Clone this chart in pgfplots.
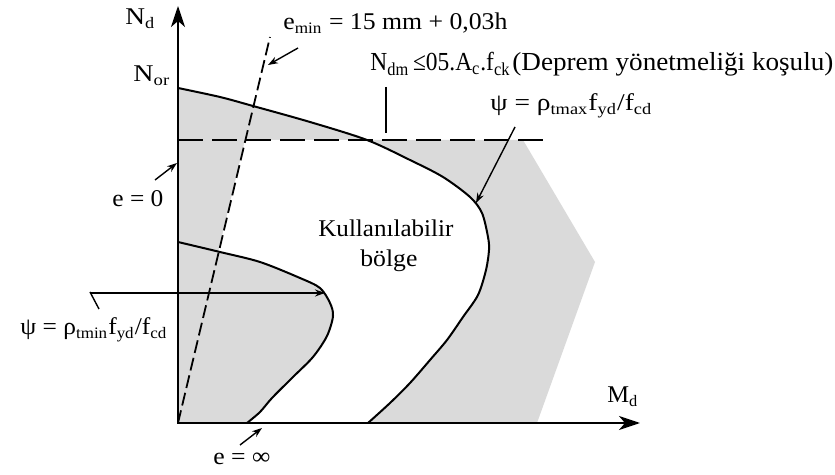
\documentclass[border=0pt]{standalone}
\usepackage{fontspec}
\setmainfont{Liberation Serif}
\usepackage{graphicx}
\usepackage{pgfplots}
\pgfplotsset{compat=1.18}
\usetikzlibrary{arrows.meta}

\definecolor{zone}{RGB}{218,218,218}
% set a label to a given width, keeping its height
\newcommand{\wlabel}[2]{\resizebox{#1}{\height}{#2}}

\begin{document}
\begin{tikzpicture}[font=\fontsize{12}{14}\selectfont]
\begin{axis}[
  scale only axis, width=417.5pt, height=237.5pt,
  xmin=0, xmax=835, ymin=0, ymax=475, y dir=reverse,
  hide axis, clip=false,
]
% frame of the drawing area
\addplot[draw=none] coordinates {(0,0) (835,475)};

% shaded (non-usable) zone
\addplot[fill=zone, draw=none] coordinates {
  (178,423) (178,88) (220,97) (253,106) (310,122) (367,140)
  (523,140) (595,262) (537,423)} -- cycle;

% usable region
\addplot[fill=white, draw=none] coordinates {
  (245,140) (367,140) (410,160) (443,177) (470,197) (482,213) (488,237)
  (489,250) (486,270) (478,295) (463,317) (447,340) (430,360) (410,383)
  (390,403) (368,423) (247,423) (260,412) (272,398) (293,377) (313,357)
  (327,336) (333,316) (330,303) (320,288) (300,278) (260,262) (218.3,252)} -- cycle;

% interaction curve, maximum reinforcement
\addplot[smooth, line width=1pt] coordinates {
  (178,88) (220,97) (253,106) (310,122) (367,140) (410,160) (443,177)
  (470,197) (482,213) (488,237) (489,250) (486,270) (478,295) (463,317)
  (447,340) (430,360) (410,383) (390,403) (368,423)};

% interaction curve, minimum reinforcement
\addplot[smooth, line width=1pt] coordinates {
  (178,242) (220,252) (260,262) (300,278) (320,288) (330,303) (333,316)
  (327,336) (313,357) (293,377) (272,398) (260,412) (247,423)};

% axial load limit
\addplot[line width=1pt, dash pattern=on 12.5pt off 4.5pt] coordinates {(178,140) (548,140)};

% minimum eccentricity line
\addplot[line width=0.9pt, dash pattern=on 6.5pt off 2.5pt] coordinates {(178,423) (270,37)};

% axes
\addplot[line width=1pt, -{Stealth[length=10.5pt,width=7pt,inset=3pt]}] coordinates {(178,424) (178,6)};
\addplot[line width=1pt, -{Stealth[length=10.5pt,width=7pt,inset=3pt]}] coordinates {(177,423) (640,423)};

% leader lines
\pgfplotsset{leader/.style={line width=0.7pt, -{Stealth[length=5pt,width=3.5pt]}}}
\addplot[leader] coordinates {(298,48) (268,65)};
\addplot[leader] coordinates {(155,180) (177,163)};
\addplot[leader] coordinates {(240,445) (262,428)};
\addplot[leader] coordinates {(515,127) (476,203)};
\addplot[leader] coordinates {(90,293) (325,293)};
\addplot[line width=0.7pt] coordinates {(90,292) (99,309)};
\addplot[line width=0.7pt] coordinates {(386,87) (386,133)};

% labels
\tikzset{lbl/.style={anchor=base west, inner sep=0}}
\node[lbl] at (axis cs:125,25) {\wlabel{15pt}{N\textsubscript{d}}};
\node[lbl] at (axis cs:133,82) {\wlabel{18.5pt}{N\textsubscript{or}}};
\node[lbl] at (axis cs:112,207) {\wlabel{25.5pt}{e = 0}};
\node[lbl] at (axis cs:213,465) {\wlabel{28.5pt}{e = ∞}};
\node[lbl] at (axis cs:607,403) {\wlabel{15.5pt}{M\textsubscript{d}}};
\node[lbl] at (axis cs:283,30) {\wlabel{112pt}{e\textsubscript{min} = 15 mm + 0,03h}};
\node[lbl, font=\fontsize{13}{15}\selectfont] at (axis cs:370,71)
  {\wlabel{70pt}{N\textsubscript{dm}\,≤05.A\textsubscript{c}.f\textsubscript{ck}}};
\node[lbl, font=\fontsize{13}{15}\selectfont] at (axis cs:512,71)
  {\wlabel{160.5pt}{(Deprem yönetmeliği koşulu)}};
\node[lbl] at (axis cs:490,111) {\wlabel{81pt}{ψ = ρ\textsubscript{tmax}f\textsubscript{yd}/f\textsubscript{cd}}};
\node[lbl] at (axis cs:20,335) {\wlabel{73.5pt}{ψ = ρ\textsubscript{tmin}f\textsubscript{yd}/f\textsubscript{cd}}};
\node[lbl] at (axis cs:318,237) {\wlabel{67.5pt}{Kullanılabilir}};
\node[lbl] at (axis cs:360,267) {\wlabel{28.5pt}{bölge}};
\end{axis}
\end{tikzpicture}
\end{document}
